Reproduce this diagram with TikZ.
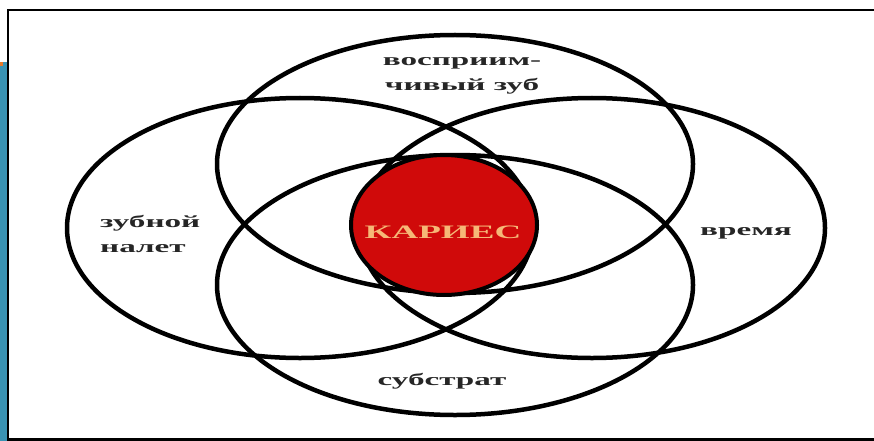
\documentclass[tikz,border=0pt]{standalone}
\usepackage{fontspec}
\setmainfont{Liberation Serif}
\usepackage{graphicx}
\usepackage{xcolor}
\usepackage{tikz}
\definecolor{cariesred}{HTML}{D00A0A}
\definecolor{cariestext}{HTML}{F6B877}
\definecolor{sidebar}{HTML}{3A93B3}
\definecolor{sideorange}{HTML}{E8792A}
\newcommand{\wide}[1]{\scalebox{1.95}[1]{#1}}

\begin{document}
\begin{tikzpicture}[
    x=1pt, y=-1pt,
    factor/.style={draw=black, line width=4.5pt},
    core/.style={draw=black, line width=4pt, fill=cariesred},
    lbl/.style={inner sep=0pt, text=black!85, align=center, font=\fontsize{17}{25}\selectfont\bfseries},
    corelbl/.style={inner sep=0pt, text=cariestext, font=\fontsize{19}{20}\selectfont\bfseries}
]
\useasboundingbox (0,0) rectangle (874,441);
\fill[white] (0,0) rectangle (874,441);
\fill[sidebar] (0,62) rectangle (7,441);
\fill[sideorange] (0,62) rectangle (3,66);
\draw[line width=2.5pt] (880,10) -- (8,10) -- (8,439.5) -- (880,439.5);

\draw[factor] (455,164) ellipse [x radius=238pt, y radius=129pt];
\draw[factor] (455,285) ellipse [x radius=238pt, y radius=130pt];
\draw[factor] (300,228) ellipse [x radius=233pt, y radius=130pt];
\draw[factor] (592,228) ellipse [x radius=233pt, y radius=130pt];
\draw[core] (444,225) ellipse [x radius=93pt, y radius=70pt];

\node[corelbl] (caries) at (443,232) {\wide{КАРИЕС}};
\node[lbl] (tooth) at (462,76) {\wide{восприим-}\\\wide{чивый зуб}};
\node[lbl, align=left, anchor=west] (plaque) at (100,234) {\wide{зубной}\\\wide{налет}};
\node[lbl] (time) at (746,233) {\wide{время}};
\node[lbl] (substrate) at (442,381) {\wide{субстрат}};
\end{tikzpicture}
\end{document}
